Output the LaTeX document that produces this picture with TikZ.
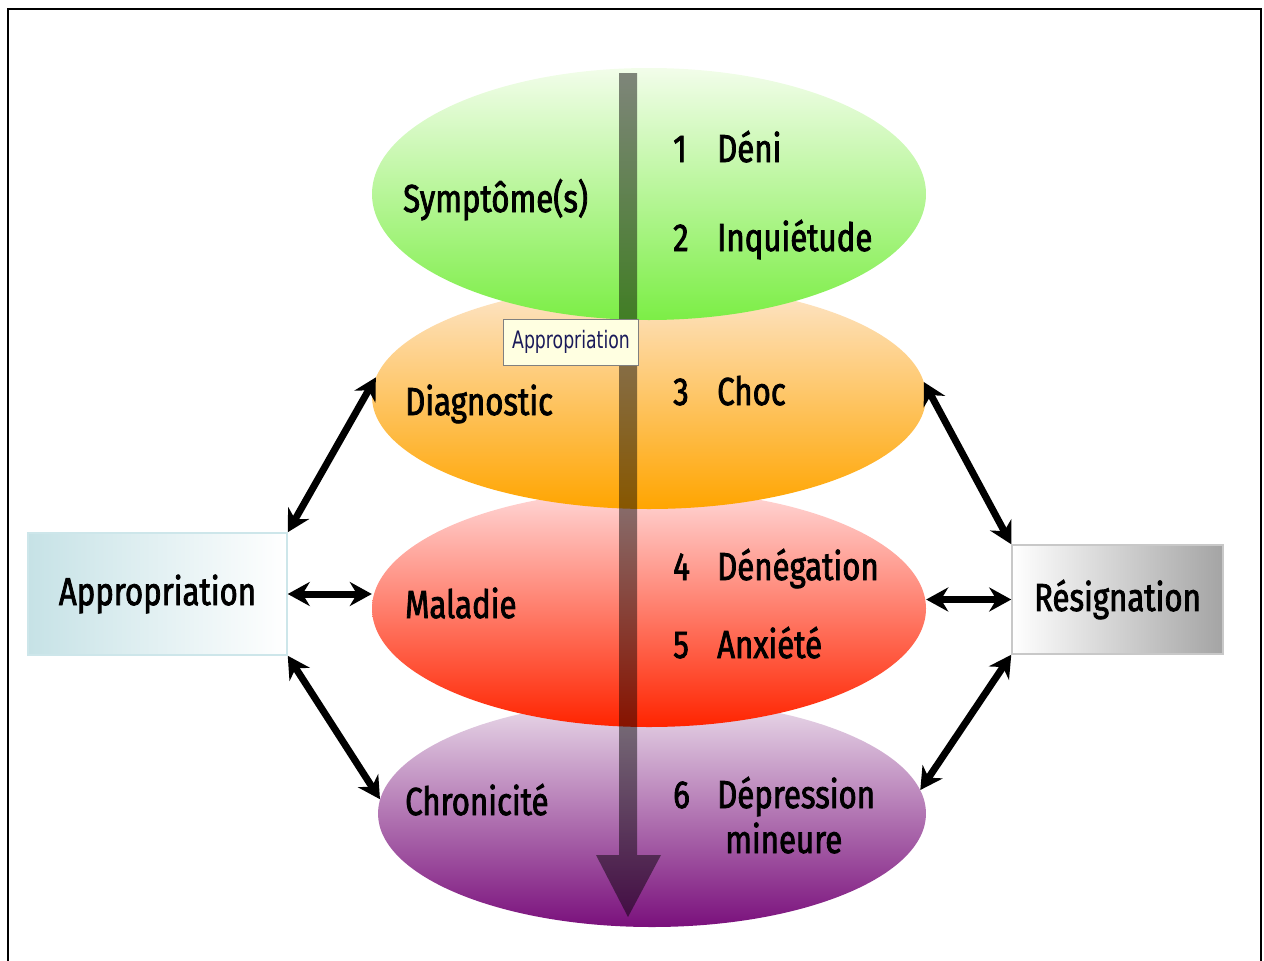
\documentclass[tikz,border=0pt]{standalone}
\usepackage{fontspec}
\setmainfont{Fira Sans}[FakeStretch=0.8,FakeBold=2]
\newfontfamily\tipfont{DejaVu Sans}[FakeStretch=0.72]
\usepackage{tikz}
\usetikzlibrary{positioning, arrows.meta, shapes}

\definecolor{greentop}{HTML}{F2FDEA}
\definecolor{greenbot}{HTML}{7CEE46}
\definecolor{orangetop}{HTML}{FDE6CC}
\definecolor{orangebot}{HTML}{FFA500}
\definecolor{redtop}{HTML}{FFD8D8}
\definecolor{redbot}{HTML}{FF2400}
\definecolor{purpletop}{HTML}{EADCEA}
\definecolor{purplebot}{HTML}{7A107C}
\definecolor{appleft}{HTML}{C6E2E6}
\definecolor{appline}{HTML}{CDE6EA}
\definecolor{resright}{HTML}{A4A4A4}
\definecolor{resline}{HTML}{C8C8C8}
\definecolor{tipfill}{HTML}{FFFFE1}
\definecolor{tipink}{HTML}{1A1A5A}

\tikzstyle{stage} = [ellipse, inner sep=0pt, minimum width=554pt]
\tikzstyle{lbl} = [anchor=base west, inner sep=0pt, text=black, font=\fontsize{39}{44}\selectfont]
\tikzstyle{sidebox} = [rectangle, draw, line width=1.5pt, inner sep=0pt, font=\fontsize{39}{44}\selectfont]
\tikzstyle{link} = [{Stealth[length=22pt,width=24pt]}-{Stealth[length=22pt,width=24pt]}, line width=7pt]
\tikzstyle{flow} = [fill=black, fill opacity=0.47]
\tikzstyle{tipbox} = [rectangle, draw=black!50, fill=tipfill, text=tipink, inner sep=0pt, minimum width=135pt, minimum height=46pt, font=\tipfont\fontsize{24}{26}\selectfont]

\begin{document}
\begin{tikzpicture}[x=1pt, y=-1pt]
  \useasboundingbox (0,0) rectangle (1264,961);
  \draw[line width=2pt] (8,975) -- (8,9) -- (1261,9) -- (1261,975);

  % bottom layer first
  \node[stage, minimum width=548pt, minimum height=227pt, top color=purpletop, bottom color=purplebot] (chronicite) at (652,813.5) {};
  \node[stage, minimum height=237pt, top color=redtop, bottom color=redbot] (maladie) at (649,608.5) {};
  \node[stage, minimum height=225pt, top color=orangetop, bottom color=orangebot] (diagnostic) at (649,396.5) {};
  \node[stage, minimum height=252pt, top color=greentop, bottom color=greenbot] (symptome) at (649,194) {};

  \fill[flow] (619,73) -- (637,73) -- (637,855) -- (661,855) -- (628,917) -- (596,855) -- (619,855) -- cycle;

  \node[tipbox] (tooltip) at (571,342) {Appropriation};

  \node[lbl] (tsymptome) at (403,212) {Symptôme(s)};
  \node[lbl] (tdiagnostic) at (405,415) {Diagnostic};
  \node[lbl] (tmaladie) at (405,618) {Maladie};
  \node[lbl] (tchronicite) at (405,815) {Chronicité};
  \foreach \n/\y/\word in {1/162/Déni, 2/251/Inquiétude, 3/405/Choc, 4/580/Dénégation, 5/658/Anxiété, 6/808/Dépression}{
    \node[lbl] (num\n) at (673,\y) {\n};
    \node[lbl] (phase\n) at (717,\y) {\word};
  }
  \node[lbl] (mineure) at (725,853) {mineure};

  \node[sidebox, draw=appline, left color=appleft, right color=white, minimum width=259pt, minimum height=122pt] (appro) at (157.5,594) {Appropriation};
  \node[sidebox, draw=resline, left color=white, right color=resright, minimum width=211pt, minimum height=109pt] (resignation) at (1117.5,599.5) {Résignation};

  \draw[link] (appro.north east) -- (diagnostic.176);
  \draw[link] (appro.east) -- (appro.east -| maladie.west);
  \draw[link] (appro.south east) -- (chronicite.177);
  \draw[link] (diagnostic.3) -- (resignation.north west);
  \draw[link] (resignation.west -| maladie.east) -- (resignation.west);
  \draw[link] (chronicite.5) -- (resignation.south west);
\end{tikzpicture}
\end{document}
